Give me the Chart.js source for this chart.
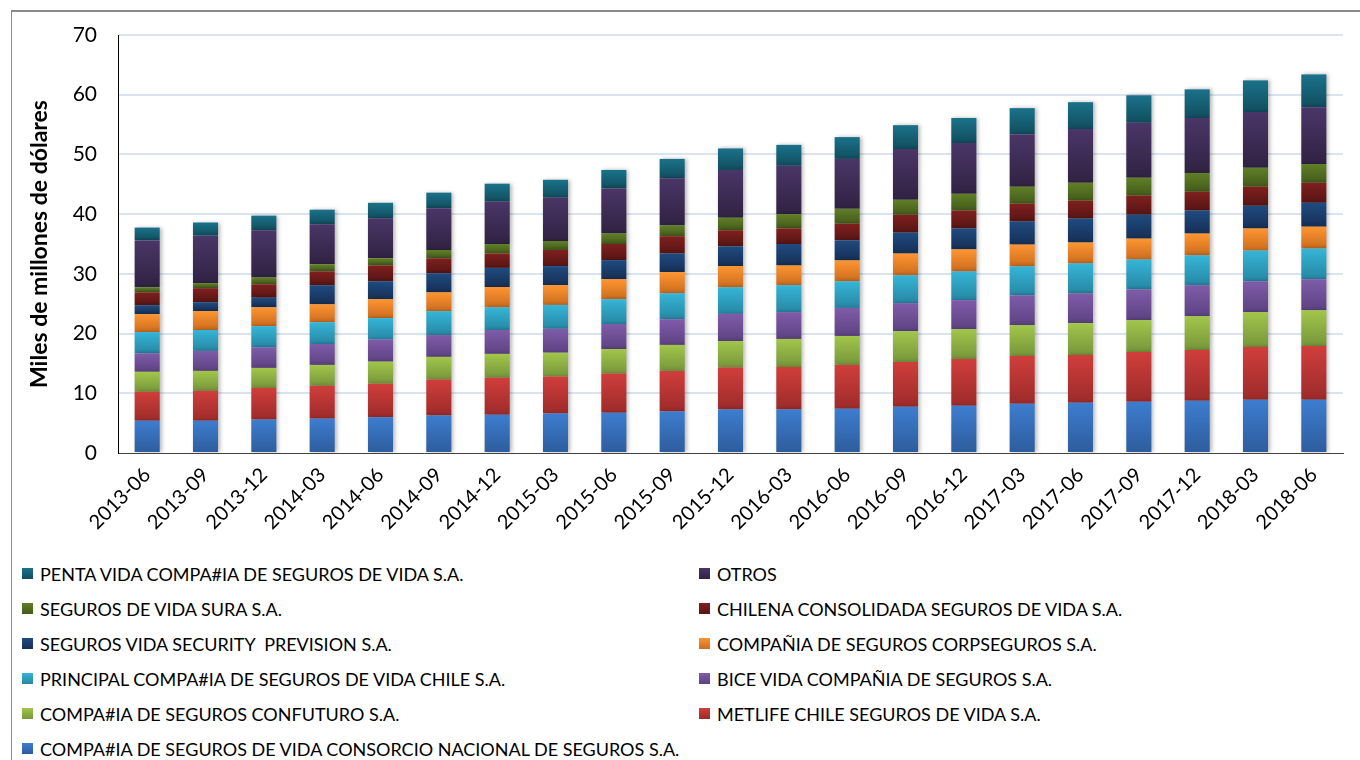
<!DOCTYPE html>
<html>
<head>
<meta charset="utf-8">
<script src="https://cdn.jsdelivr.net/npm/chart.js@4"></script>
<style>
  html, body { margin: 0; padding: 0; background: #fff; overflow: hidden; }
  #wrap { position: relative; width: 1360px; height: 760px; }
  #frame { position: absolute; left: 11px; top: 10px; width: 1400px; height: 800px;
           border-left: 1px solid #8a8a8a; border-top: 2px solid #8a8a8a; }
  #chart { position: absolute; left: 0; top: 0; }
  #legend { position: absolute; left: 22px; top: 556px; display: grid;
            grid-template-columns: 677px 620px; grid-auto-rows: 35px;
            font: 18px Lato, sans-serif; color: #000; }
  .item { display: flex; align-items: center; white-space: pre; }
  .sw { width: 11px; height: 11px; margin-right: 7px; flex: none; }
</style>
</head>
<body>
<div id="wrap">
  <div id="frame"></div>
  <canvas id="chart" width="1360" height="545"></canvas>
  <div id="legend"></div>
</div>
<script>
const labels = ['2013-06', '2013-09', '2013-12', '2014-03', '2014-06', '2014-09', '2014-12',
  '2015-03', '2015-06', '2015-09', '2015-12', '2016-03', '2016-06', '2016-09', '2016-12',
  '2017-03', '2017-06', '2017-09', '2017-12', '2018-03', '2018-06'];

// miles de millones de dólares (de abajo hacia arriba)
const consorcio   = [5.4, 5.4, 5.6, 5.75, 6.0, 6.3, 6.4, 6.6, 6.75, 6.97, 7.3, 7.3, 7.4, 7.75, 7.9, 8.25, 8.4, 8.6, 8.75, 8.9, 8.9];
const metlife     = [4.85, 5.0, 5.3, 5.5, 5.6, 6.0, 6.2, 6.2, 6.55, 6.78, 7.0, 7.1, 7.35, 7.5, 7.85, 8.0, 8.0, 8.3, 8.5, 8.85, 9.0];
const confuturo   = [3.35, 3.35, 3.35, 3.5, 3.7, 3.8, 4.0, 4.0, 4.1, 4.35, 4.45, 4.7, 4.85, 5.15, 5.0, 5.15, 5.35, 5.35, 5.65, 5.85, 6.0];
const bice        = [3.1, 3.35, 3.45, 3.5, 3.7, 3.65, 4.0, 4.0, 4.2, 4.3, 4.55, 4.5, 4.7, 4.7, 4.85, 5.0, 5.0, 5.15, 5.2, 5.15, 5.2];
const principal   = [3.55, 3.5, 3.55, 3.65, 3.6, 4.0, 3.8, 4.0, 4.15, 4.35, 4.45, 4.5, 4.45, 4.65, 4.8, 4.85, 5.0, 5.0, 5.0, 5.15, 5.15];
const corpseguros = [3.0, 3.15, 3.15, 3.0, 3.15, 3.15, 3.4, 3.3, 3.35, 3.55, 3.55, 3.3, 3.5, 3.65, 3.7, 3.65, 3.5, 3.5, 3.65, 3.7, 3.65];
const security    = [1.5, 1.5, 1.6, 3.2, 3.0, 3.2, 3.2, 3.2, 3.2, 3.1, 3.3, 3.6, 3.35, 3.5, 3.5, 3.85, 4.0, 4.0, 3.85, 3.8, 4.0];
const chilena     = [2.15, 2.35, 2.25, 2.3, 2.65, 2.5, 2.4, 2.7, 2.7, 2.9, 2.7, 2.6, 2.8, 3.0, 3.0, 3.0, 3.0, 3.2, 3.15, 3.2, 3.35];
const sura        = [0.85, 0.8, 1.15, 1.2, 1.2, 1.4, 1.6, 1.5, 1.75, 1.8, 2.1, 2.4, 2.5, 2.5, 2.8, 2.85, 3.0, 3.0, 3.15, 3.15, 3.15];
const otros       = [7.85, 8.0, 7.9, 6.7, 6.7, 7.0, 7.1, 7.25, 7.55, 7.9, 8.0, 8.1, 8.35, 8.5, 8.5, 8.8, 9.0, 9.2, 9.2, 9.35, 9.5];
const penta       = [2.15, 2.2, 2.45, 2.45, 2.6, 2.6, 3.0, 3.0, 3.1, 3.25, 3.6, 3.5, 3.65, 4.0, 4.2, 4.35, 4.5, 4.6, 4.8, 5.3, 5.5];

const seriesNames = [
  'COMPA#IA DE SEGUROS DE VIDA CONSORCIO NACIONAL DE SEGUROS S.A.',
  'METLIFE CHILE SEGUROS DE VIDA S.A.',
  'COMPA#IA DE SEGUROS CONFUTURO S.A.',
  'BICE VIDA COMPAÑIA DE SEGUROS S.A.',
  'PRINCIPAL COMPA#IA DE SEGUROS DE VIDA CHILE S.A.',
  'COMPAÑIA DE SEGUROS CORPSEGUROS S.A.',
  'SEGUROS VIDA SECURITY  PREVISION S.A.',
  'CHILENA CONSOLIDADA SEGUROS DE VIDA S.A.',
  'SEGUROS DE VIDA SURA S.A.',
  'OTROS',
  'PENTA VIDA COMPA#IA DE SEGUROS DE VIDA S.A.'
];
const seriesData = [consorcio, metlife, confuturo, bice, principal, corpseguros,
  security, chilena, sura, otros, penta];

// colour at top / bottom of each segment
const topColors = ['#3d7dcf', '#d03e3b', '#a2c64b', '#7f5ca9', '#36b5d7', '#fd9531',
  '#1f4b80', '#7f201e', '#607f27', '#4a3668', '#1a728a'];
const bottomColors = ['#2d5c9c', '#9c2b2a', '#76963a', '#5d4282', '#2687a4', '#cc6c1e',
  '#162f55', '#561514', '#435a1a', '#302242', '#114d5e'];

function segmentFill(c) {
  const i = c.datasetIndex;
  const flat = topColors[i];
  if (c.type !== 'data') return flat;
  const ys = c.chart.scales.y;
  if (!ys) return flat;
  let base = 0;
  for (let d = 0; d < i; d++) base += seriesData[d][c.dataIndex];
  const yTop = ys.getPixelForValue(base + seriesData[i][c.dataIndex]);
  const yBot = ys.getPixelForValue(base);
  if (!isFinite(yTop) || !isFinite(yBot) || yTop === yBot) return flat;
  const g = c.chart.ctx.createLinearGradient(0, yTop, 0, yBot);
  g.addColorStop(0, topColors[i]);
  g.addColorStop(1, bottomColors[i]);
  return g;
}

const barShadow = {
  id: 'barShadow',
  beforeDatasetsDraw(chart) {
    const ctx = chart.ctx;
    ctx.save();
    ctx.shadowColor = 'rgba(0,0,0,0.28)';
    ctx.shadowBlur = 4;
    ctx.shadowOffsetX = 2;
    ctx.shadowOffsetY = 0;
  },
  afterDatasetsDraw(chart) {
    chart.ctx.restore();
  }
};

const datasets = seriesData.map((vals, i) => ({
  label: seriesNames[i],
  data: vals,
  backgroundColor: segmentFill,
  borderWidth: 0,
  categoryPercentage: 1,
  barPercentage: 0.43,
  stack: 'total'
}));

new Chart(document.getElementById('chart'), {
  type: 'bar',
  data: { labels: labels, datasets: datasets },
  plugins: [barShadow],
  options: {
    responsive: false,
    animation: false,
    layout: { padding: { top: 35, right: 17, left: 0, bottom: 0 } },
    plugins: {
      legend: { display: false },
      tooltip: { enabled: false }
    },
    scales: {
      x: {
        stacked: true,
        grid: { display: false },
        border: { display: true, color: '#404040', width: 1 },
        ticks: {
          color: '#000',
          font: { family: 'Lato', size: 20 },
          maxRotation: 45,
          minRotation: 45,
          padding: 2,
          autoSkip: false
        },
        afterFit(scale) { scale.height = 92; }
      },
      y: {
        stacked: true,
        min: 0,
        max: 70,
        grid: {
          drawTicks: false,
          lineWidth: 2,
          color: (c) => c.tick && c.tick.value === 0 ? 'rgba(0,0,0,0)' : '#dae4f1'
        },
        border: { display: true, color: '#000', width: 1 },
        ticks: {
          stepSize: 10,
          color: '#000',
          padding: 21,
          font: { family: 'Lato', size: 21 }
        },
        title: {
          display: true,
          text: 'Miles de millones de dólares',
          color: '#000',
          font: { family: 'Lato', size: 23, weight: 'bold' },
          padding: { top: 26, bottom: 0 }
        },
        afterFit(scale) { scale.width = 118; }
      }
    }
  }
});

// legend: top of the stack first, two columns
const legend = document.getElementById('legend');
for (let i = seriesNames.length - 1; i >= 0; i--) {
  const item = document.createElement('div');
  item.className = 'item';
  const sw = document.createElement('span');
  sw.className = 'sw';
  sw.style.background = 'linear-gradient(' + topColors[i] + ',' + bottomColors[i] + ')';
  item.appendChild(sw);
  item.appendChild(document.createTextNode(seriesNames[i]));
  legend.appendChild(item);
}
</script>
</body>
</html>
